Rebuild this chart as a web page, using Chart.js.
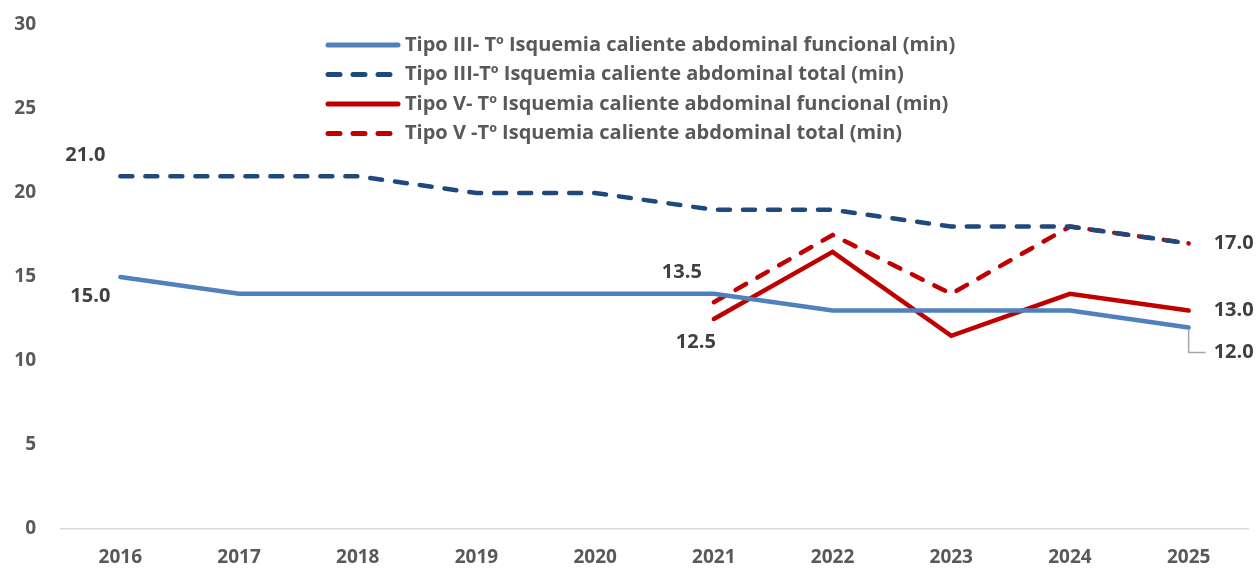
<!DOCTYPE html>
<html><head><meta charset="utf-8">
<script src="https://cdn.jsdelivr.net/npm/chart.js@4.4.1/dist/chart.umd.min.js"></script>
<style>html,body{margin:0;padding:0;background:#fff;}#wrap{width:1258px;height:569px;position:relative;}</style>
</head><body><div id="wrap"><canvas id="c" width="1258" height="569"></canvas></div>
<script>
const years = ['2016','2017','2018','2019','2020','2021','2022','2023','2024','2025'];
const tipoIIIFuncional = [15,14,14,14,14,14,13,13,13,12];
const tipoIIITotal = [21,21,21,20,20,19,19,18,18,17];
const tipoVFuncional = [null,null,null,null,null,12.5,16.5,11.5,14,13];
const tipoVTotal = [null,null,null,null,null,13.5,17.5,14,18,17];
const seriesNames = [
  'Tipo III- Tº Isquemia caliente abdominal funcional (min)',
  'Tipo III-Tº Isquemia caliente abdominal total (min)',
  'Tipo V- Tº Isquemia caliente abdominal funcional (min)',
  'Tipo V -Tº Isquemia caliente abdominal total (min)'
];
const yTicks = [0,5,10,15,20,25,30];

const FONT = '"Open Sans"';
const dash = [12,13];

// labels: [datasetIndex, pointIndex, dx, dy, align, leader]
const labelSpecs = [
  [1,0,-35,-21,'center',false],
  [0,0,-30,19,'center',false],
  [3,5,-32,-30,'center',false],
  [2,5,-18,23,'center',false],
  [3,9,25,0,'left',false],
  [2,9,25,0,'left',false],
  [0,9,25,25,'left',true]
];

const overlay = {
  id:'overlay',
  afterDatasetsDraw(chart){
    const ctx = chart.ctx;
    ctx.save();
    // data labels
    ctx.font = 'bold 20px ' + FONT;
    ctx.fillStyle = '#404040';
    ctx.textBaseline = 'middle';
    labelSpecs.forEach(([ds,i,dx,dy,align,leader])=>{
      const el = chart.getDatasetMeta(ds).data[i];
      const v = chart.data.datasets[ds].data[i];
      const x = el.x + dx, y = el.y + dy;
      if (leader){
        ctx.strokeStyle = '#A6A6A6'; ctx.lineWidth = 1.5;
        ctx.beginPath(); ctx.moveTo(el.x, el.y+2); ctx.lineTo(el.x, y); ctx.lineTo(x-8, y); ctx.stroke();
      }
      ctx.textAlign = align;
      ctx.fillText(v.toFixed(1), x, y);
    });
    // legend
    const lx = 328, ly = 45, lh = 29.5;
    chart.data.datasets.forEach((d,k)=>{
      const y = ly + k*lh;
      ctx.strokeStyle = d.borderColor; ctx.lineWidth = 5; ctx.lineCap = 'round';
      ctx.setLineDash(d.borderDash || []);
      ctx.beginPath(); ctx.moveTo(lx, y); ctx.lineTo(lx+70, y); ctx.stroke();
      ctx.setLineDash([]);
      ctx.fillStyle = '#595959';
      ctx.font = 'bold 20px ' + FONT;
      ctx.textAlign = 'left';
      ctx.fillText(d.label, lx+77, y);
    });
    ctx.restore();
  }
};

const mk = (label, data, color, dashed) => ({
  label, data, borderColor: color, backgroundColor: color,
  borderWidth: 4.5, borderDash: dashed ? dash : [], borderCapStyle:'round',
  pointRadius: 0, tension: 0, spanGaps: false, fill:false
});

new Chart(document.getElementById('c'), {
  type:'line',
  data:{
    labels: years,
    datasets:[
      mk(seriesNames[0], tipoIIIFuncional, '#4F81BD', false),
      mk(seriesNames[1], tipoIIITotal, '#1F497D', true),
      mk(seriesNames[2], tipoVFuncional, '#C00000', false),
      mk(seriesNames[3], tipoVTotal, '#C00000', true)
    ]
  },
  options:{
    responsive:false, animation:false,
    layout:{autoPadding:false, padding:{top:25,right:10,left:0,bottom:0}},
    plugins:{legend:{display:false}, tooltip:{enabled:false}},
    scales:{
      x:{
        offset:true,
        grid:{display:false, drawTicks:false},
        border:{display:true,color:'#D9D9D9',width:1.5},
        ticks:{color:'#595959',font:{family:FONT,size:19,weight:'bold'},padding:17,maxRotation:0},
        afterFit(s){ s.height = 40; s.paddingLeft = 0; s.paddingRight = 0; }
      },
      y:{
        min:0,max:30,
        afterBuildTicks(s){ s.ticks = yTicks.map(v=>({value:v})); },
        grid:{display:false, drawTicks:false},
        border:{display:false},
        ticks:{color:'#595959',font:{family:FONT,size:19,weight:'bold'},padding:25},
        afterFit(s){ s.width = 61; s.paddingTop = 0; s.paddingBottom = 0; }
      }
    }
  },
  plugins:[overlay]
});
</script></body></html>
